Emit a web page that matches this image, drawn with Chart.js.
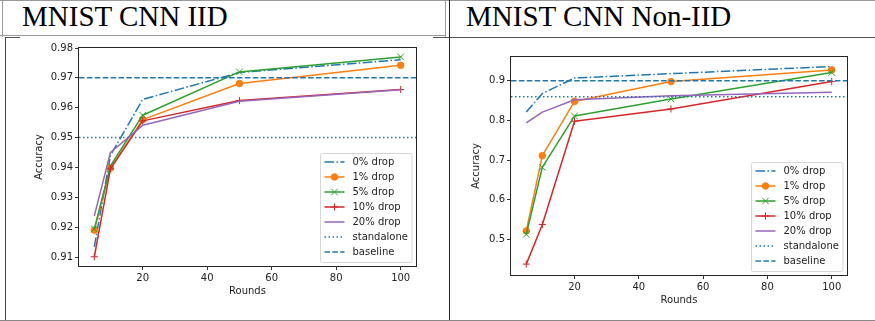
<!DOCTYPE html>
<html><head><meta charset="utf-8">
<script src="https://cdn.jsdelivr.net/npm/chart.js@4.4.0/dist/chart.umd.min.js"></script>
<style>
html,body{margin:0;padding:0;background:#fff}
#page{position:relative;width:875px;height:321px;overflow:hidden;background:#fff}
.ln{position:absolute}
.ttl{position:absolute;font-family:"Liberation Serif","Times New Roman",serif;font-size:29px;line-height:29px;color:#000;white-space:nowrap}
canvas{position:absolute}
</style></head><body>
<div id="page">
  <div class="ln" style="left:0;top:0;width:875px;height:1px;background:#9a9a9a"></div>
  <div class="ln" style="left:0;top:35px;width:445px;height:1px;background:#9a9a9a"></div>
  <div class="ln" style="left:5px;top:37px;width:15px;height:1px;background:#555"></div>
  <div class="ln" style="left:433px;top:37px;width:442px;height:1px;background:#555"></div>
  <div class="ln" style="left:2px;top:0;width:1px;height:37px;background:#9a9a9a"></div>
  <div class="ln" style="left:445px;top:0;width:1px;height:37px;background:#9a9a9a"></div>
  <div class="ln" style="left:5px;top:37px;width:1px;height:284px;background:#444"></div>
  <div class="ln" style="left:449px;top:0;width:1px;height:321px;background:#222"></div>
  <div class="ln" style="left:0;top:320px;width:875px;height:1px;background:#888"></div>
  <div class="ttl" style="left:22px;top:2px">MNIST CNN IID</div>
  <div class="ttl" style="left:466px;top:2px">MNIST CNN Non-IID</div>
  <canvas id="c1" width="449" height="282" style="left:0;top:38px"></canvas>
  <canvas id="c2" width="424" height="282" style="left:450px;top:38px"></canvas>
</div>
<script>
// ---------- data ----------
const rounds = [5, 10, 20, 50, 100];
const xTicks = [20, 40, 60, 80, 100];
const seriesLabels = ['0% drop', '1% drop', '5% drop', '10% drop', '20% drop'];
const refLabels = ['standalone', 'baseline'];

const iidDrop0  = [0.9134, 0.9440, 0.9628, 0.9718, 0.9761];
const iidDrop1  = [0.9190, 0.9398, 0.9560, 0.9681, 0.9742];
const iidDrop5  = [0.9194, 0.9405, 0.9575, 0.9720, 0.9770];
const iidDrop10 = [0.9101, 0.9395, 0.9556, 0.9624, 0.9661];
const iidDrop20 = [0.9238, 0.9450, 0.9541, 0.9622, 0.9660];
const iidStandalone = 0.95;
const iidBaseline = 0.97;
const iidYTicks = [0.91, 0.92, 0.93, 0.94, 0.95, 0.96, 0.97, 0.98];
const iidYRange = [0.907, 0.980];

const nonDrop0  = [0.821, 0.868, 0.907, 0.918, 0.936];
const nonDrop1  = [0.521, 0.711, 0.848, 0.898, 0.9275];
const nonDrop5  = [0.5125, 0.682, 0.811, 0.854, 0.921];
const nonDrop10 = [0.4375, 0.5375, 0.798, 0.829, 0.898];
const nonDrop20 = [0.794, 0.821, 0.852, 0.862, 0.871];
const nonStandalone = 0.86;
const nonBaseline = 0.90;
const nonYTicks = [0.5, 0.6, 0.7, 0.8, 0.9];
const nonYRange = [0.41, 0.96];

const xRange = [0.25, 104.75];

// ---------- styles ----------
const FONT = '"DejaVu Sans", sans-serif';
const seriesStyle = [
  {color: '#1f77b4', dash: [9.6, 2.4, 1.5, 2.4], point: false, radius: 0},
  {color: '#ff7f0e', dash: [], point: 'circle', radius: 3.3},
  {color: '#2ca02c', dash: [], point: 'crossRot', radius: 4.6},
  {color: '#d62728', dash: [], point: 'cross', radius: 3.6},
  {color: '#9467bd', dash: [], point: false, radius: 0}
];
const refStyle = [
  {color: '#1f77b4', dash: [1.5, 2.5]},
  {color: '#1f77b4', dash: [5.5, 2.4]}
];

function drawMarker(ctx, style, r, x, y, color) {
  ctx.save();
  ctx.setLineDash([]);
  ctx.strokeStyle = color; ctx.fillStyle = color; ctx.lineWidth = 1;
  ctx.beginPath();
  if (style === 'circle') {
    ctx.arc(x, y, r, 0, Math.PI * 2); ctx.fill(); ctx.stroke();
  } else if (style === 'crossRot') {
    const d = r * Math.SQRT1_2;
    ctx.moveTo(x - d, y - d); ctx.lineTo(x + d, y + d);
    ctx.moveTo(x - d, y + d); ctx.lineTo(x + d, y - d); ctx.stroke();
  } else if (style === 'cross') {
    ctx.moveTo(x - r, y); ctx.lineTo(x + r, y);
    ctx.moveTo(x, y - r); ctx.lineTo(x, y + r); ctx.stroke();
  }
  ctx.restore();
}

const framePlugin = {
  id: 'frame',
  afterDatasetsDraw(chart) {
    const a = chart.chartArea, ctx = chart.ctx;
    ctx.save();
    ctx.strokeStyle = '#262626'; ctx.lineWidth = 1;
    ctx.strokeRect(Math.round(a.left) - 0.5, Math.round(a.top) - 0.5,
                   Math.round(a.right - a.left) + 1, Math.round(a.bottom - a.top) + 1);
    ctx.restore();
  },
  afterDraw(chart) {
    const ctx = chart.ctx, a = chart.chartArea;
    const ds = chart.data.datasets;
    ctx.save();
    ctx.font = '10px ' + FONT;
    const tw = Math.max(...ds.map(d => ctx.measureText(d.label).width));
    const w = 4 + 20 + 8 + tw + 4, h = 109;
    const x0 = Math.round(a.right - 5 - w) + 0.5, y0 = Math.round(a.bottom - 4 - h) + 0.5;
    ctx.fillStyle = 'rgba(255,255,255,0.85)';
    ctx.strokeStyle = '#d6d6d6'; ctx.lineWidth = 1;
    ctx.beginPath();
    if (ctx.roundRect) ctx.roundRect(x0, y0, w, h, 2); else ctx.rect(x0, y0, w, h);
    ctx.fill(); ctx.stroke();
    ds.forEach((d, i) => {
      const cy = y0 + 8.5 + i * 15;
      ctx.save();
      ctx.strokeStyle = d.borderColor; ctx.lineWidth = d.borderWidth;
      ctx.setLineDash(d.borderDash || []);
      ctx.beginPath(); ctx.moveTo(x0 + 4, cy); ctx.lineTo(x0 + 24, cy); ctx.stroke();
      ctx.restore();
      if (d.pointStyle && d.pointRadius > 0) drawMarker(ctx, d.pointStyle, d.pointRadius, x0 + 14, cy, d.borderColor);
      ctx.fillStyle = '#222'; ctx.textBaseline = 'middle'; ctx.textAlign = 'left';
      ctx.fillText(d.label, x0 + 32, cy + 0.5);
    });
    ctx.restore();
  }
};

function makeChart(id, series, refs, yTicks, yRange, dec, L) {
  const datasets = [];
  series.forEach((vals, i) => {
    const s = seriesStyle[i];
    datasets.push({
      label: seriesLabels[i],
      data: rounds.map((r, k) => ({x: r, y: vals[k]})),
      borderColor: s.color, backgroundColor: s.color,
      borderWidth: 1.5, borderDash: s.dash, borderJoinStyle: 'round',
      pointStyle: s.point, pointRadius: s.radius, pointHoverRadius: s.radius,
      pointBorderWidth: 1, pointBackgroundColor: s.color, pointBorderColor: s.color,
      fill: false, tension: 0, order: 10 - i
    });
  });
  refs.forEach((v, i) => {
    const s = refStyle[i];
    datasets.push({
      label: refLabels[i],
      data: xRange.map(x => ({x: x, y: v})),
      borderColor: s.color, backgroundColor: s.color,
      borderWidth: 1.5, borderDash: s.dash,
      pointRadius: 0, pointStyle: false, fill: false, order: 4 - i
    });
  });
  const tickColor = '#222';
  return new Chart(document.getElementById(id), {
    type: 'line',
    data: {datasets},
    plugins: [framePlugin],
    options: {
      responsive: false, animation: false, devicePixelRatio: 1,
      layout: {padding: {top: L.padTop, right: L.padRight, left: 0, bottom: 0}},
      plugins: {legend: {display: false}, tooltip: {enabled: false}, title: {display: false}},
      scales: {
        x: {
          type: 'linear', min: xRange[0], max: xRange[1],
          afterBuildTicks: s => { s.ticks = xTicks.map(v => ({value: v})); },
          afterFit: s => { s.height = L.xH; },
          grid: {drawOnChartArea: false, drawTicks: true, tickLength: 4, color: '#333', lineWidth: 1},
          border: {display: false},
          ticks: {color: tickColor, font: {family: FONT, size: 10}, padding: 2, maxRotation: 0,
                  callback: v => String(v)},
          title: {display: true, text: 'Rounds', color: tickColor, font: {family: FONT, size: 10},
                  padding: {top: 0, bottom: L.xTitlePad}}
        },
        y: {
          type: 'linear', min: yRange[0], max: yRange[1],
          afterBuildTicks: s => { s.ticks = yTicks.map(v => ({value: v})); },
          afterFit: s => { s.width = L.yW; },
          grid: {drawOnChartArea: false, drawTicks: true, tickLength: 4, color: '#333', lineWidth: 1},
          border: {display: false},
          ticks: {color: tickColor, font: {family: FONT, size: 10}, padding: 2,
                  callback: v => Number(v).toFixed(dec)},
          title: {display: true, text: 'Accuracy', color: tickColor, font: {family: FONT, size: 10},
                  padding: {top: L.yTitlePad, bottom: 0}}
        }
      }
    }
  });
}

makeChart('c1', [iidDrop0, iidDrop1, iidDrop5, iidDrop10, iidDrop20],
          [iidStandalone, iidBaseline], iidYTicks, iidYRange, 2,
          {padTop: 10, padRight: 33, yW: 79, xH: 54, yTitlePad: 33, xTitlePad: 23});
makeChart('c2', [nonDrop0, nonDrop1, nonDrop5, nonDrop10, nonDrop20],
          [nonStandalone, nonBaseline], nonYTicks, nonYRange, 1,
          {padTop: 19, padRight: 27, yW: 61, xH: 45, yTitlePad: 20, xTitlePad: 14});
</script>
</body></html>
